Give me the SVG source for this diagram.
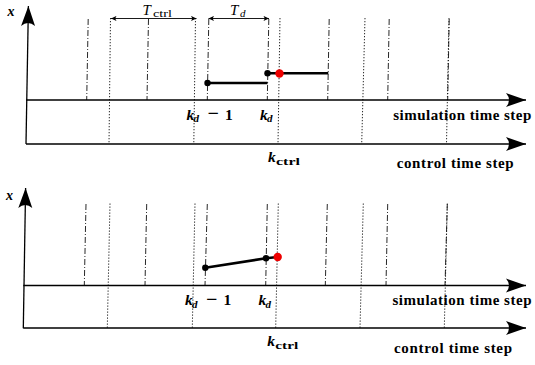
<svg xmlns="http://www.w3.org/2000/svg" width="535" height="365" viewBox="0 0 535 365">
<style>
.ax{stroke:#000;stroke-width:1.3;fill:none}
.dd{stroke:#111;stroke-width:0.9;stroke-dasharray:6 2 1 2;fill:none}
.dt{stroke:#111;stroke-width:0.9;stroke-dasharray:1.3 1.7;fill:none}
.st{stroke:#000;stroke-width:2.6;fill:none}
.dm{stroke:#000;stroke-width:0.9;fill:none}
.m{font-family:"Liberation Serif",serif;font-weight:bold;font-style:italic;fill:#000}
.t{font-family:"Liberation Serif",serif;font-weight:bold;fill:#000}
.ti{font-family:"Liberation Serif",serif;font-style:italic;fill:#000}
</style>
<defs>
<marker id="big" viewBox="-21 -8 22 16" refX="0" refY="0" markerWidth="22" markerHeight="16" markerUnits="userSpaceOnUse" orient="auto">
<path d="M0,0 L-20,-7 Q-14,0 -20,7 Z" fill="#000"/>
</marker>
<marker id="sm" viewBox="-6 -3 7 6" refX="0" refY="0" markerWidth="7" markerHeight="6" markerUnits="userSpaceOnUse" orient="auto-start-reverse">
<path d="M0,0 L-5.5,-2.6 L-4.2,0 L-5.5,2.6 Z" fill="#000"/>
</marker>
</defs>

<g id="connectors">
<g id="top-simlines">
<line class="dd" x1="88.2" y1="19" x2="86.7" y2="100"/>
<line class="dd" x1="148.5" y1="19" x2="147" y2="100"/>
<line class="dd" x1="208.8" y1="19" x2="207.3" y2="100"/>
<line class="dd" x1="268.8" y1="19" x2="267.3" y2="100"/>
<line class="dd" x1="329.2" y1="19" x2="327.7" y2="100"/>
<line class="dd" x1="389.2" y1="19" x2="387.7" y2="100"/>
<line class="dd" x1="449.2" y1="19" x2="447.7" y2="100"/>
</g>
<g id="top-ctrllines">
<line class="dt" x1="110.5" y1="18" x2="109" y2="144"/>
<line class="dt" x1="195.5" y1="18" x2="193.8" y2="144"/>
<line class="dt" x1="280" y1="18" x2="278" y2="144"/>
<line class="dt" x1="365" y1="18" x2="361.7" y2="144"/>
<line class="dt" x1="449" y1="18" x2="446.5" y2="144"/>
</g>
<line class="ax" x1="26" y1="144" x2="28.4" y2="6" marker-end="url(#big)"/>
<line class="ax" x1="26" y1="100" x2="526" y2="100" marker-end="url(#big)"/>
<line class="ax" x1="26" y1="144" x2="526" y2="144" marker-end="url(#big)"/>
<line class="dm" x1="111" y1="18.5" x2="196.5" y2="18.5" marker-start="url(#sm)" marker-end="url(#sm)"/>
<line class="dm" x1="208.5" y1="18.5" x2="269" y2="18.5" marker-start="url(#sm)" marker-end="url(#sm)"/>

<g id="bot-simlines">
<line class="dd" x1="86" y1="204" x2="84.3" y2="285.5"/>
<line class="dd" x1="146.7" y1="204" x2="145" y2="285.5"/>
<line class="dd" x1="207.3" y1="204" x2="205" y2="285.5"/>
<line class="dd" x1="267.3" y1="204" x2="265.7" y2="285.5"/>
<line class="dd" x1="327.3" y1="204" x2="325.3" y2="285.5"/>
<line class="dd" x1="387.7" y1="204" x2="386" y2="285.5"/>
<line class="dd" x1="447.3" y1="204" x2="445" y2="285.5"/>
</g>
<g id="bot-ctrllines">
<line class="dt" x1="110" y1="203.5" x2="107.3" y2="328"/>
<line class="dt" x1="195" y1="203.5" x2="192.3" y2="328"/>
<line class="dt" x1="278.3" y1="203.5" x2="275.7" y2="328"/>
<line class="dt" x1="363.3" y1="203.5" x2="360" y2="328"/>
<line class="dt" x1="447.3" y1="203.5" x2="444.3" y2="328"/>
</g>
<line class="ax" x1="23.3" y1="328.3" x2="25.6" y2="188" marker-end="url(#big)"/>
<line class="ax" x1="23.3" y1="285.5" x2="526" y2="285.5" marker-end="url(#big)"/>
<line class="ax" x1="23.3" y1="328" x2="526" y2="328" marker-end="url(#big)"/>
</g>

<g id="top-signal">
<line class="st" x1="207.5" y1="83" x2="267.5" y2="83"/>
<line class="st" x1="267.5" y1="73.3" x2="328.3" y2="73.3"/>
<circle cx="207.5" cy="83" r="3.2" fill="#000"/>
<circle cx="267.5" cy="73.3" r="3.2" fill="#000"/>
<circle cx="279.5" cy="73.5" r="4.2" fill="#ee0000"/>
</g>

<g id="bottom-signal">
<line class="st" x1="205.3" y1="267.7" x2="266" y2="258.3"/>
<line class="st" x1="266" y1="258.3" x2="277.7" y2="257"/>
<circle cx="205.3" cy="267.7" r="3.2" fill="#000"/>
<circle cx="266" cy="258.3" r="3.2" fill="#000"/>
<circle cx="277.7" cy="257" r="4.2" fill="#ee0000"/>
</g>

<g id="top-labels">
<text class="m" x="7.5" y="16" font-size="14">x</text>
<text class="ti" x="142.5" y="15" font-size="15">T<tspan x="153" y="16.5" font-style="normal" font-size="11" textLength="19" lengthAdjust="spacingAndGlyphs">ctrl</tspan></text>
<text class="ti" x="230" y="15" font-size="15">T<tspan x="240" y="17" font-size="11">d</tspan></text>
<text class="m" x="186.5" y="119.5" font-size="15.5">k<tspan x="193.5" y="122" font-size="11">d</tspan><tspan x="207.5" y="120" font-style="normal" font-size="20">−</tspan><tspan x="225" y="119.5" font-style="normal">1</tspan></text>
<text class="m" x="260" y="119.5" font-size="15.5">k<tspan x="267" y="122" font-size="11">d</tspan></text>
<text class="m" x="268" y="162" font-size="15.5">k<tspan x="276" y="165" font-style="normal" font-size="11" textLength="24" lengthAdjust="spacingAndGlyphs">ctrl</tspan></text>
<text class="t" x="393.3" y="119.5" font-size="15" textLength="138" lengthAdjust="spacing">simulation time step</text>
<text class="t" x="396.7" y="168" font-size="15" textLength="117" lengthAdjust="spacing">control time step</text>
</g>

<g id="bottom-labels">
<text class="m" x="6" y="200" font-size="14">x</text>
<text class="m" x="185" y="305" font-size="15.5">k<tspan x="192" y="307.5" font-size="11">d</tspan><tspan x="206" y="305.5" font-style="normal" font-size="20">−</tspan><tspan x="223.5" y="305" font-style="normal">1</tspan></text>
<text class="m" x="258.5" y="305" font-size="15.5">k<tspan x="265.5" y="307.5" font-size="11">d</tspan></text>
<text class="m" x="267.3" y="346" font-size="15.5">k<tspan x="275.3" y="349" font-style="normal" font-size="11" textLength="23" lengthAdjust="spacingAndGlyphs">ctrl</tspan></text>
<text class="t" x="392.5" y="304.5" font-size="15" textLength="139" lengthAdjust="spacing">simulation time step</text>
<text class="t" x="394" y="353" font-size="15" textLength="118" lengthAdjust="spacing">control time step</text>
</g>
</svg>
